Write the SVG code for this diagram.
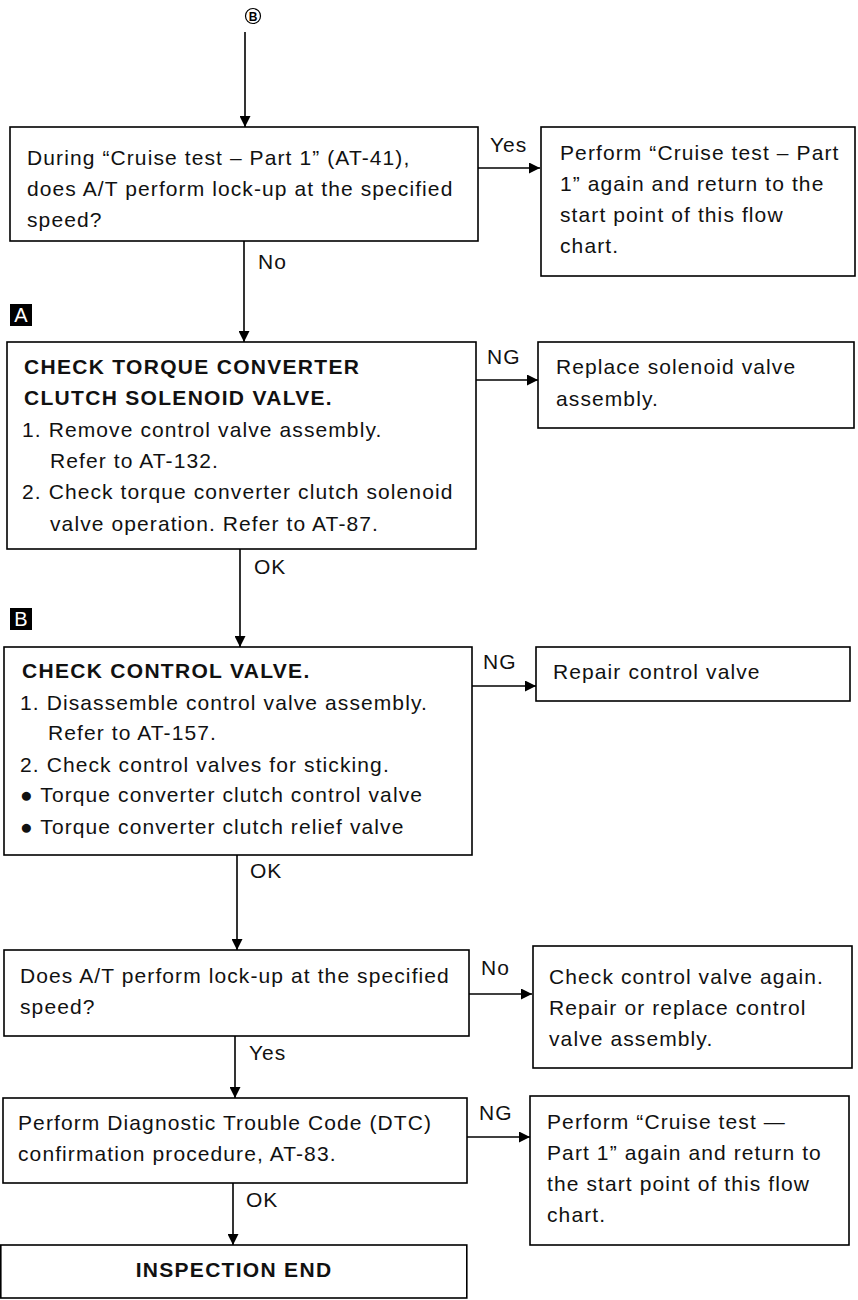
<svg xmlns="http://www.w3.org/2000/svg" width="858" height="1300" viewBox="0 0 858 1300">
<style>
.box{fill:#fff;stroke:#000;stroke-width:1.6}
.t{font-family:"Liberation Sans",Arial,sans-serif;font-size:21px;letter-spacing:1.1px;fill:#111}
.b{font-weight:bold;letter-spacing:1.3px}
.ln{stroke:#000;stroke-width:1.6;fill:none}
.lb{font-family:"Liberation Sans",Arial,sans-serif;font-size:21px;letter-spacing:1px;fill:#111}
</style>
<defs>
<marker id="ah" viewBox="0 0 10 10" refX="10" refY="5" markerWidth="11" markerHeight="11" markerUnits="userSpaceOnUse" orient="auto">
<path d="M0,0 L10,5 L0,10 z" fill="#000"/>
</marker>
</defs>
<rect width="858" height="1300" fill="#fff"/>
<g id="start">
<circle cx="253" cy="16" r="7.5" fill="#fff" stroke="#000" stroke-width="1.2"/>
<text x="253" y="20.5" text-anchor="middle" font-family="Liberation Sans,Arial,sans-serif" font-size="12" font-weight="bold">B</text>
</g>
<g id="markerA">
<rect x="10" y="304" width="22" height="22" fill="#000"/>
<text x="21" y="322" text-anchor="middle" font-family="Liberation Sans,Arial,sans-serif" font-size="20" fill="#fff">A</text>
</g>
<g id="markerB">
<rect x="10" y="608" width="22" height="22" fill="#000"/>
<text x="21" y="626" text-anchor="middle" font-family="Liberation Sans,Arial,sans-serif" font-size="20" fill="#fff">B</text>
</g>
<g id="connectors">
<line class="ln" x1="245" y1="32" x2="245" y2="127" marker-end="url(#ah)"/>
<line class="ln" x1="478" y1="168" x2="540" y2="168" marker-end="url(#ah)"/>
<text class="lb" x="490" y="152">Yes</text>
<line class="ln" x1="244" y1="241" x2="244" y2="342" marker-end="url(#ah)"/>
<text class="lb" x="258" y="269">No</text>
<line class="ln" x1="476" y1="380" x2="538" y2="380" marker-end="url(#ah)"/>
<text class="lb" x="487" y="364">NG</text>
<line class="ln" x1="240" y1="549" x2="240" y2="647" marker-end="url(#ah)"/>
<text class="lb" x="254" y="574">OK</text>
<line class="ln" x1="472" y1="686" x2="536" y2="686" marker-end="url(#ah)"/>
<text class="lb" x="483" y="669">NG</text>
<line class="ln" x1="237" y1="855" x2="237" y2="950" marker-end="url(#ah)"/>
<text class="lb" x="250" y="878">OK</text>
<line class="ln" x1="469" y1="994" x2="532" y2="994" marker-end="url(#ah)"/>
<text class="lb" x="481" y="975">No</text>
<line class="ln" x1="235" y1="1036" x2="235" y2="1098" marker-end="url(#ah)"/>
<text class="lb" x="249" y="1060">Yes</text>
<line class="ln" x1="467" y1="1137" x2="530" y2="1137" marker-end="url(#ah)"/>
<text class="lb" x="479" y="1120">NG</text>
<line class="ln" x1="233" y1="1183" x2="233" y2="1245" marker-end="url(#ah)"/>
<text class="lb" x="246" y="1207">OK</text>
</g>
<g id="q1">
<rect class="box" x="10" y="127" width="468" height="114"/>
<text class="t" x="27" y="165">During “Cruise test – Part 1” (AT-41),</text>
<text class="t" x="27" y="196">does A/T perform lock-up at the specified</text>
<text class="t" x="27" y="227">speed?</text>
</g>
<g id="r1">
<rect class="box" x="541" y="127" width="314" height="149"/>
<text class="t" x="560" y="160">Perform “Cruise test – Part</text>
<text class="t" x="560" y="191">1” again and return to the</text>
<text class="t" x="560" y="222">start point of this flow</text>
<text class="t" x="560" y="253">chart.</text>
</g>
<g id="stepA">
<rect class="box" x="7" y="342" width="469" height="207"/>
<text class="t b" x="24" y="374">CHECK TORQUE CONVERTER</text>
<text class="t b" x="24" y="405">CLUTCH SOLENOID VALVE.</text>
<text class="t" x="22" y="437">1. Remove control valve assembly.</text>
<text class="t" x="50" y="468">Refer to AT-132.</text>
<text class="t" x="22" y="499">2. Check torque converter clutch solenoid</text>
<text class="t" x="50" y="531">valve operation. Refer to AT-87.</text>
</g>
<g id="rA">
<rect class="box" x="538" y="342" width="316" height="86"/>
<text class="t" x="556" y="374">Replace solenoid valve</text>
<text class="t" x="556" y="406">assembly.</text>
</g>
<g id="stepB">
<rect class="box" x="4" y="647" width="468" height="208"/>
<text class="t b" x="22" y="678">CHECK CONTROL VALVE.</text>
<text class="t" x="20" y="710">1. Disassemble control valve assembly.</text>
<text class="t" x="48" y="740">Refer to AT-157.</text>
<text class="t" x="20" y="772">2. Check control valves for sticking.</text>
<text class="t" x="20" y="802">● Torque converter clutch control valve</text>
<text class="t" x="20" y="834">● Torque converter clutch relief valve</text>
</g>
<g id="rB">
<rect class="box" x="536" y="647" width="314" height="54"/>
<text class="t" x="553" y="679">Repair control valve</text>
</g>
<g id="q2">
<rect class="box" x="4" y="950" width="465" height="86"/>
<text class="t" x="20" y="983">Does A/T perform lock-up at the specified</text>
<text class="t" x="20" y="1014">speed?</text>
</g>
<g id="r2">
<rect class="box" x="533" y="946" width="319" height="122"/>
<text class="t" x="549" y="984">Check control valve again.</text>
<text class="t" x="549" y="1015">Repair or replace control</text>
<text class="t" x="549" y="1046">valve assembly.</text>
</g>
<g id="dtc">
<rect class="box" x="3" y="1098" width="464" height="85"/>
<text class="t" x="18" y="1130">Perform Diagnostic Trouble Code (DTC)</text>
<text class="t" x="18" y="1161">confirmation procedure, AT-83.</text>
</g>
<g id="r3">
<rect class="box" x="530" y="1096" width="319" height="149"/>
<text class="t" x="547" y="1129">Perform “Cruise test —</text>
<text class="t" x="547" y="1160">Part 1” again and return to</text>
<text class="t" x="547" y="1191">the start point of this flow</text>
<text class="t" x="547" y="1222">chart.</text>
</g>
<g id="end">
<rect class="box" x="0.8" y="1245" width="466" height="53"/>
<text class="t b" x="234" y="1277" text-anchor="middle">INSPECTION END</text>
</g>
</svg>
